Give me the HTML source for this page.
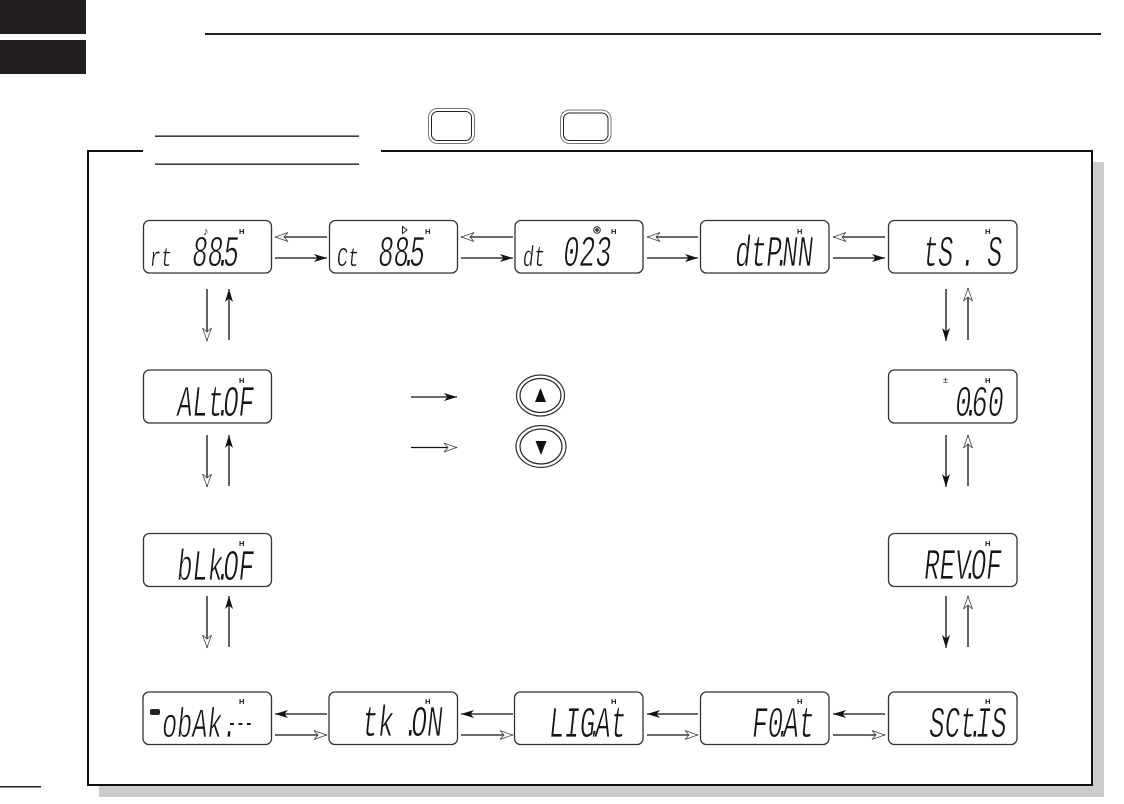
<!DOCTYPE html>
<html>
<head>
<meta charset="utf-8">
<style>
html,body{margin:0;padding:0;background:#fff;}
svg{display:block;}
text{font-family:"Liberation Sans",sans-serif;fill:#151515;}
.h{font-size:7.5px;font-weight:bold;}
.m{font-family:"Liberation Mono",monospace;font-size:44px;stroke:#fff;stroke-width:.8;}
.lcd{fill:#fff;stroke:#333;stroke-width:1.3;}
.l{stroke:#111;stroke-width:1.3;fill:none;}
</style>
</head>
<body>
<svg width="1124" height="804" viewBox="0 0 1124 804" xmlns="http://www.w3.org/2000/svg">
<defs>
<marker id="b" markerUnits="userSpaceOnUse" markerWidth="16" markerHeight="12" refX="14" refY="6" orient="auto">
<path d="M1,2 L14,6 L1,10 L4.500,6z" fill="#111"/>
</marker>
<marker id="w" markerUnits="userSpaceOnUse" markerWidth="16" markerHeight="12" refX="14.500" refY="6" orient="auto">
<path d="M1.500,1.500 L14,6 L1.500,10.500 L5.500,6z" fill="#fff" stroke="#444" stroke-width="0.8"/>
</marker>
</defs>

<rect x="0" y="0" width="86" height="34" fill="#231f20"/>
<rect x="0" y="40" width="86" height="34" fill="#231f20"/>
<rect x="205" y="33" width="896" height="2" fill="#231f20"/>
<rect x="0" y="786" width="41" height="1.500" fill="#231f20"/>

<!-- frame with shadow -->
<rect x="99" y="162" width="1005" height="635" fill="#cccccc"/>
<rect x="88" y="151" width="1004" height="634" fill="#fff" stroke="#111" stroke-width="2"/>
<rect x="143" y="146" width="238" height="8" fill="#fff"/>
<rect x="155" y="135.500" width="204" height="1.300" fill="#111"/>
<rect x="155" y="163.500" width="204" height="1.300" fill="#111"/>

<!-- keys -->
<rect x="428.500" y="108.500" width="46" height="35" rx="9" fill="#fff" stroke="#777" stroke-width="1"/>
<rect x="431.500" y="111.500" width="40" height="29" rx="6" fill="#fff" stroke="#222" stroke-width="1"/>
<rect x="560.500" y="110" width="50.500" height="33.500" rx="9" fill="#fff" stroke="#777" stroke-width="1"/>
<rect x="563.500" y="113" width="44.500" height="27.500" rx="6" fill="#fff" stroke="#222" stroke-width="1"/>

<!-- LCD boxes -->
<rect class="lcd" x="143.500" y="220.500" width="128" height="52.500" rx="6"/>
<rect class="lcd" x="329.500" y="220.500" width="128" height="52.500" rx="6"/>
<rect class="lcd" x="515" y="220.500" width="128" height="52.500" rx="6"/>
<rect class="lcd" x="700.500" y="220.500" width="128.500" height="52.500" rx="6"/>
<rect class="lcd" x="888.500" y="220.500" width="128.500" height="52.500" rx="6"/>
<rect class="lcd" x="143.500" y="370" width="128" height="53" rx="6"/>
<rect class="lcd" x="888.500" y="370" width="128.500" height="53" rx="6"/>
<rect class="lcd" x="143.500" y="533.500" width="128" height="53" rx="6"/>
<rect class="lcd" x="888.500" y="533.500" width="128.500" height="53" rx="6"/>
<rect class="lcd" x="143" y="692" width="128.500" height="52.500" rx="6"/>
<rect class="lcd" x="329" y="692" width="128.500" height="52.500" rx="6"/>
<rect class="lcd" x="514.500" y="692" width="128.500" height="52.500" rx="6"/>
<rect class="lcd" x="700.500" y="692" width="128.500" height="52.500" rx="6"/>
<rect class="lcd" x="888.500" y="692" width="128.500" height="52.500" rx="6"/>

<!-- H -->
<text class="h" x="239" y="234">H</text>
<text class="h" x="425" y="234">H</text>
<text class="h" x="611" y="234">H</text>
<text class="h" x="797" y="234">H</text>
<text class="h" x="985" y="234">H</text>
<text class="h" x="239" y="383">H</text>
<text class="h" x="985" y="383">H</text>
<text class="h" x="239" y="546">H</text>
<text class="h" x="985" y="546">H</text>
<text class="h" x="239" y="704">H</text>
<text class="h" x="425" y="704">H</text>
<text class="h" x="611" y="704">H</text>
<text class="h" x="797" y="704">H</text>
<text class="h" x="985" y="704">H</text>

<!-- mode icons -->
<text x="203" y="235" style="font-size:11px;font-weight:bold">♪</text>
<path d="M402.500,226.500 L407,230 L402.500,233.500z" fill="#fff" stroke="#222" stroke-width="1"/>
<circle cx="597" cy="230" r="3.300" fill="#fff" stroke="#222" stroke-width="1"/>
<circle cx="597" cy="230" r="1.800" fill="#222"/>
<text x="943" y="383" style="font-size:9px">±</text>
<rect x="150" y="709" width="10" height="6" rx="2" fill="#222"/>

<!-- LCD text -->
<text class="m" transform="translate(149,266) skewX(-6) scale(.42,.62)">rt</text>
<text class="m" transform="translate(191,266) skewX(-6) scale(.587,1)" dx="0 0 -13 -13">88.5</text>
<text class="m" transform="translate(336,266) skewX(-6) scale(.42,.62)">Ct</text>
<text class="m" transform="translate(377,266) skewX(-6) scale(.587,1)" dx="0 0 -13 -13">88.5</text>
<text class="m" transform="translate(522,266) skewX(-6) scale(.42,.66)">dt</text>
<text class="m" transform="translate(562,266) skewX(-6) scale(.61,1)">023</text>
<text class="m" transform="translate(734,266) skewX(-6) scale(.59,1)" dx="0 0 0 -13 -13 0">dtP.NN</text>
<text class="m" transform="translate(922,266) skewX(-6) scale(.57,1)">tS</text>
<text class="m" transform="translate(959,266) skewX(-6) scale(.6,1)">.</text>
<text class="m" transform="translate(986,266) skewX(-6) scale(.57,1)">S</text>
<text class="m" transform="translate(176,416) skewX(-6) scale(.58,1)" dx="0 0 0 -13 -13 0">ALt.OF</text>
<text class="m" transform="translate(954,416) skewX(-6) scale(.61,1)" dx="0 -13 -13 0">0.60</text>
<text class="m" transform="translate(176,580) skewX(-6) scale(.58,1)" dx="0 0 0 -13 -13 0">bLk.OF</text>
<text class="m" transform="translate(923,579) skewX(-6) scale(.585,1)" dx="0 0 0 -13 -13 0">REV.OF</text>
<text class="m" transform="translate(161,737) skewX(-6) scale(.57,.95)">obAk.</text>
<text class="m" transform="translate(227,731) skewX(-6) scale(.32,.6)" style="stroke:none">---</text>
<text class="m" transform="translate(361,736) skewX(-6) scale(.6,1)">tk</text>
<text class="m" transform="translate(402,736) skewX(-6) scale(.6,1)" dx="0 -13 0">.ON</text>
<text class="m" transform="translate(548,737) skewX(-6) scale(.58,1)" dx="0 0 0 -13 -13 0">LIG.At</text>
<text class="m" transform="translate(751,737) skewX(-6) scale(.585,1)" dx="0 0 -13 -13 0">F0.At</text>
<text class="m" transform="translate(928,737) skewX(-6) scale(.585,1)" dx="0 0 0 -13 -13 0">SCt.IS</text>

<g class="l">
<!-- top row arrows -->
<line x1="327" y1="237" x2="275" y2="237" marker-end="url(#w)"/>
<line x1="513" y1="237" x2="461" y2="237" marker-end="url(#w)"/>
<line x1="698" y1="237" x2="647" y2="237" marker-end="url(#w)"/>
<line x1="885" y1="237" x2="833" y2="237" marker-end="url(#w)"/>
<line x1="275" y1="258" x2="327" y2="258" marker-end="url(#b)"/>
<line x1="461" y1="258" x2="513" y2="258" marker-end="url(#b)"/>
<line x1="647" y1="258" x2="698" y2="258" marker-end="url(#b)"/>
<line x1="833" y1="258" x2="885" y2="258" marker-end="url(#b)"/>

<!-- bottom row arrows -->
<line x1="327" y1="714" x2="275" y2="714" marker-end="url(#b)"/>
<line x1="513" y1="714" x2="461" y2="714" marker-end="url(#b)"/>
<line x1="698" y1="714" x2="647" y2="714" marker-end="url(#b)"/>
<line x1="885" y1="714" x2="833" y2="714" marker-end="url(#b)"/>
<line x1="275" y1="735" x2="327" y2="735" marker-end="url(#w)"/>
<line x1="461" y1="735" x2="513" y2="735" marker-end="url(#w)"/>
<line x1="647" y1="735" x2="698" y2="735" marker-end="url(#w)"/>
<line x1="833" y1="735" x2="885" y2="735" marker-end="url(#w)"/>

<!-- left column -->
<line x1="207" y1="289" x2="207" y2="341" marker-end="url(#w)"/>
<line x1="229" y1="340" x2="229" y2="289" marker-end="url(#b)"/>
<line x1="207" y1="435" x2="207" y2="487" marker-end="url(#w)"/>
<line x1="229" y1="486" x2="229" y2="435" marker-end="url(#b)"/>
<line x1="207" y1="596" x2="207" y2="648" marker-end="url(#w)"/>
<line x1="229" y1="647" x2="229" y2="596" marker-end="url(#b)"/>

<!-- right column -->
<line x1="946" y1="289" x2="946" y2="341" marker-end="url(#b)"/>
<line x1="968" y1="340" x2="968" y2="288" marker-end="url(#w)"/>
<line x1="946" y1="435" x2="946" y2="487" marker-end="url(#b)"/>
<line x1="968" y1="486" x2="968" y2="435" marker-end="url(#w)"/>
<line x1="946" y1="596" x2="946" y2="648" marker-end="url(#b)"/>
<line x1="968" y1="647" x2="968" y2="596" marker-end="url(#w)"/>

<!-- legend -->
<line x1="411" y1="397" x2="457" y2="397" marker-end="url(#b)"/>
<line x1="411" y1="447.500" x2="457" y2="447.500" marker-end="url(#w)"/>
</g>

<ellipse cx="540.500" cy="395.500" rx="24" ry="20.500" fill="#fff" stroke="#333" stroke-width="1.200"/>
<ellipse cx="540.500" cy="395.500" rx="20.500" ry="17" fill="#fff" stroke="#222" stroke-width="1.200"/>
<path d="M540.500,388 L546,402 L535,402z" fill="#111"/>
<ellipse cx="541" cy="446.500" rx="25" ry="21" fill="#fff" stroke="#333" stroke-width="1.200"/>
<ellipse cx="541" cy="446.500" rx="21" ry="17.500" fill="#fff" stroke="#222" stroke-width="1.200"/>
<path d="M535.500,441 L546.500,441 L541,455z" fill="#111"/>
</svg>
</body>
</html>
